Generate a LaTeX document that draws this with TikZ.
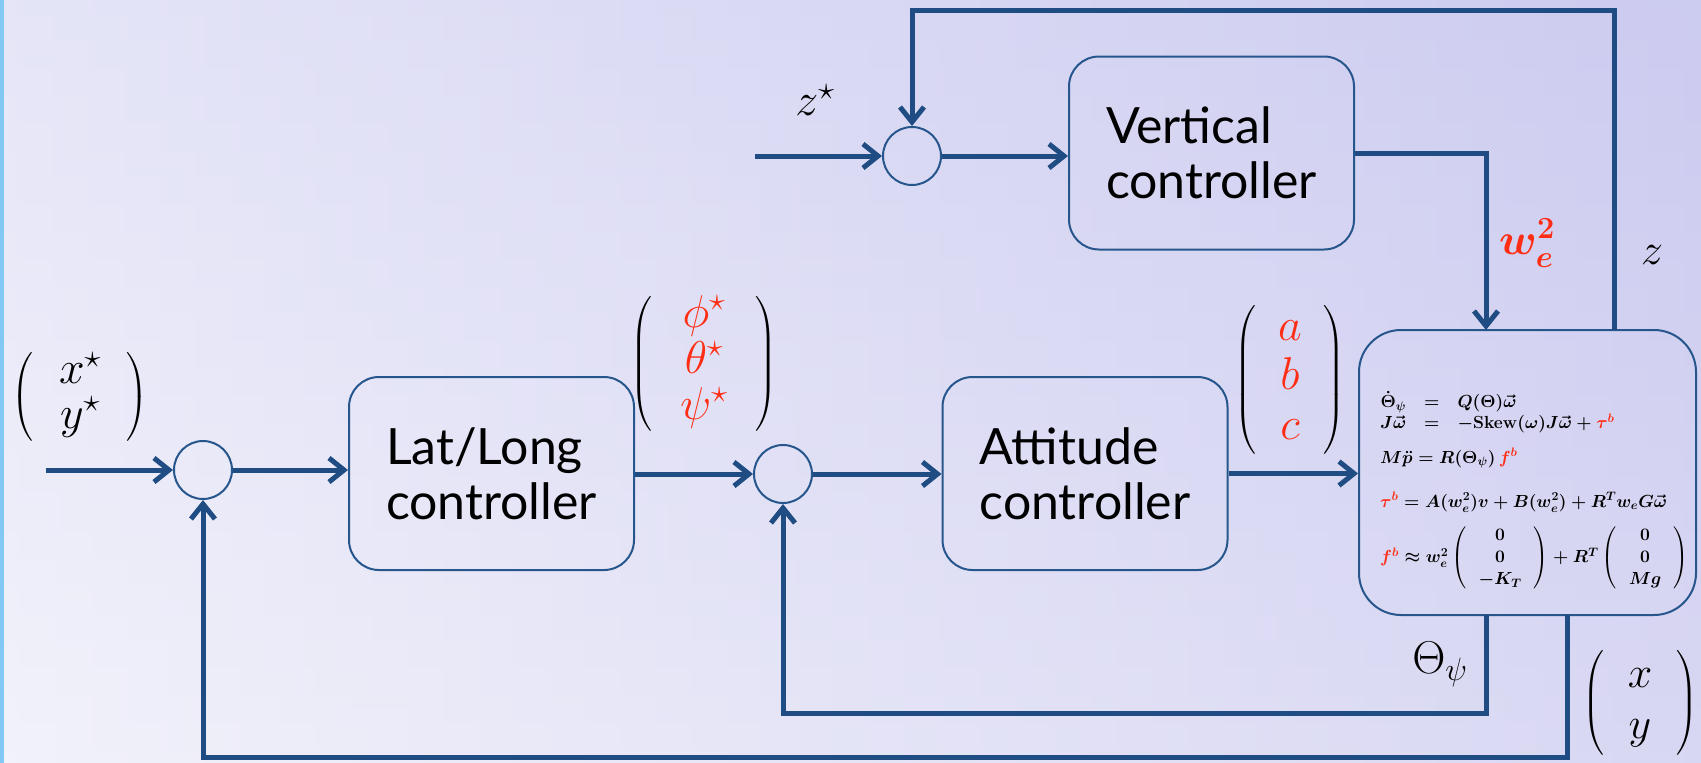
\RequirePackage{fix-cm}
\documentclass[tikz,border=0pt]{standalone}
\usepackage{amsmath}
\usepackage{fontspec}
\newfontfamily\boxfont{Lato}
\usetikzlibrary{arrows.meta}

\definecolor{bgL}{RGB}{242,242,251}
\definecolor{bgR}{RGB}{196,194,237}
\definecolor{haze}{RGB}{214,214,244}
\definecolor{wire}{RGB}{31,76,130}
\definecolor{rim}{RGB}{38,86,140}
\definecolor{hot}{RGB}{255,45,20}
\definecolor{strip}{RGB}{130,200,245}

% column vector with adjustable gap between the entries and the parentheses
\newcommand{\stackvec}[2]{\left(\begin{array}{@{\hspace{#1}}c@{\hspace{#1}}}#2\end{array}\right)}

\tikzset{
  wire/.style={draw=wire, line width=5pt, -{Straight Barb[length=15pt,width=24pt]}},
  block/.style={draw=rim, line width=2pt, rounded corners=30pt, align=left,
    minimum width=285pt, minimum height=193pt, inner sep=0pt,
    font=\boxfont\fontsize{50}{55}\selectfont},
  sum/.style={draw=rim, line width=2pt, circle, minimum size=58pt, inner sep=0pt},
  lbl/.style={inner sep=0pt},
  eqs/.style={inner sep=0pt, anchor=west, font=\fontsize{17.5}{20}\selectfont\boldmath},
}

\begin{document}
\begin{tikzpicture}[x=1pt,y=-1pt]
\useasboundingbox (0,0) rectangle (1701,763);
\shade[left color=bgL, right color=bgR] (0,0) rectangle (1701,763);
\shade[top color=haze, bottom color=bgL, opacity=0.45] (0,0) rectangle (1701,763);
\fill[strip] (0,0) rectangle (4,763);

% summing junctions
\node[sum] (s1) at (203,470) {};
\node[sum] (s2) at (783,474) {};
\node[sum] (s3) at (912,156) {};

% controller blocks
\node[block] (ll)  at (491.5,473.5) {Lat/Long\\controller};
\node[block] (att) at (1085,473.5)  {Attitude\\controller};
\node[block] (vc)  at (1211.5,153)  {Vertical\\controller};

% plant block with its model
\node[draw=rim, line width=2pt, rounded corners=42pt, minimum width=337pt,
      minimum height=285pt, inner sep=0pt] (pl) at (1527.5,472.5) {};

\node[eqs] (eqa) at (1380,413) {$\renewcommand{\arraystretch}{1}\setlength{\arraycolsep}{9pt}
  \begin{array}{@{}rcl@{}}
  \dot\Theta_\psi & = & Q(\Theta)\vec\omega\\
  J\vec\omega & = & -\mathbf{Skew}(\omega)J\vec\omega+\textcolor{hot}{\tau^b}
  \end{array}$};
\node[eqs, anchor=base west] (eqb) at (1380,463) {$M\ddot p = R(\Theta_\psi)\,\textcolor{hot}{f^b}$};
\node[eqs, anchor=base west] (eqc) at (1380,507) {$\textcolor{hot}{\tau^b} = A(w_e^2)v + B(w_e^2) + R^T w_e G\vec\omega$};
\node[eqs] (eqd) at (1380,558) {$\renewcommand{\arraystretch}{1.1}
  \textcolor{hot}{f^b}\approx w_e^2\stackvec{12pt}{0\\0\\-K_T}+R^T\stackvec{12pt}{0\\0\\Mg}$};

% signal labels
\node[lbl, font=\fontsize{46}{55}\selectfont] (xs) at (80,397)
  {$\renewcommand{\arraystretch}{0.8}\stackvec{26pt}{x^\star\\ y^\star}$};
\node[lbl, font=\fontsize{46}{55}\selectfont] (ang) at (704,364)
  {$\renewcommand{\arraystretch}{0.84}\stackvec{28pt}{\textcolor{hot}{\phi^\star}\\ \textcolor{hot}{\theta^\star}\\ \textcolor{hot}{\psi^\star}}$};
\node[lbl, font=\fontsize{46}{55}\selectfont] (abc) at (1290,380)
  {$\renewcommand{\arraystretch}{0.9}\stackvec{22pt}{\textcolor{hot}{a}\\ \textcolor{hot}{b}\\ \textcolor{hot}{c}}$};
\node[lbl, font=\fontsize{44}{53}\selectfont] (xy) at (1640,703)
  {$\renewcommand{\arraystretch}{0.95}\stackvec{24pt}{x\\ y}$};
\node[lbl, font=\fontsize{46}{55}\selectfont] (zs) at (815,100) {$z^\star$};
\node[lbl, font=\fontsize{44}{53}\selectfont\boldmath, text=hot] (we) at (1527,243) {$w_e^2$};
\node[lbl, font=\fontsize{44}{53}\selectfont] (zl) at (1652,255) {$z$};
\node[lbl, font=\fontsize{46}{55}\selectfont] (th) at (1440,664) {$\Theta_\psi$};

% forward path
\coordinate (xin) at (46,470);
\draw[wire] (xin) -- (s1);
\draw[wire] (s1.east) -- (s1.east -| ll.west);
\draw[wire] (ll.east |- s2.west) -- (s2.west);
\draw[wire] (s2.east) -- (s2.east -| att.west);
\draw[wire] (att.east) -- (att.east -| pl.west);

% vertical channel
\coordinate (zin) at (755,156);
\draw[wire] (zin) -- (s3);
\draw[wire] (s3.east) -- (s3.east -| vc.west);
\coordinate (wdrop) at (1486,330);
\draw[wire] (vc.east) -| (wdrop);

% feedback paths
\coordinate (zout) at (1614,330);
\coordinate (zturn) at (912,10);
\draw[wire] (zout) |- (zturn) -- (s3.north);
\coordinate (thout) at (1486,615);
\coordinate (thturn) at (783,713);
\draw[wire] (thout) |- (thturn) -- (s2.south);
\coordinate (xyout) at (1567,615);
\coordinate (xyturn) at (203,757);
\draw[wire] (xyout) |- (xyturn) -- (s1.south);
\end{tikzpicture}
\end{document}
